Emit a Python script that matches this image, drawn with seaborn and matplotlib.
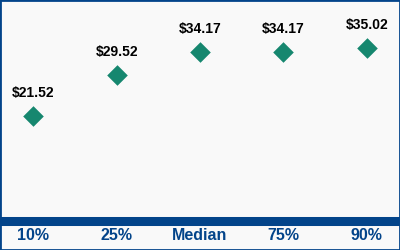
import matplotlib
matplotlib.use("Agg")
import matplotlib.pyplot as plt
import seaborn as sns
import pandas as pd
from matplotlib.patches import Rectangle

categories = ["10%", "25%", "Median", "75%", "90%"]
values = [21.52, 29.52, 34.17, 34.17, 35.02]
labels = ["$21.52", "$29.52", "$34.17", "$34.17", "$35.02"]

df = pd.DataFrame({"cat": categories, "val": values})

sns.set_theme(style="white")
plt.rcParams["font.family"] = ["Liberation Sans", "DejaVu Sans"]

BG = "#f9f9f9"
BLUE = "#03448a"
TEAL = "#16876f"

fig = plt.figure(figsize=(4, 2.5), dpi=100, facecolor=BG)
ax = fig.add_axes([0, 29 / 250, 1, 221 / 250])
ax.set_facecolor(BG)

sns.scatterplot(data=df, x="cat", y="val", marker="D", s=110, color=TEAL,
                linewidth=0, ax=ax, zorder=3)

for i, (v, t) in enumerate(zip(values, labels)):
    ax.annotate(t.replace("$", r"\$"), (i, v), xytext=(0, 16.5), textcoords="offset points",
                ha="center", va="center", fontsize=10, fontweight="bold", color="black")

ax.set_xlim(-0.4, 4.4)
ax.set_ylim(0.6, 44.45)
ax.set_xlabel("")
ax.set_ylabel("")
ax.set_yticks([])
ax.tick_params(axis="x", length=0, pad=5, labelsize=11.5, labelcolor=BLUE)
for lab in ax.get_xticklabels():
    lab.set_fontweight("bold")
for s in ["left", "right", "top"]:
    ax.spines[s].set_visible(False)
ax.spines["bottom"].set_color(BLUE)
ax.spines["bottom"].set_linewidth(6.5)

fig.patches.append(Rectangle((0, 0), 1, 1, transform=fig.transFigure, fill=False,
                             edgecolor=BLUE, linewidth=2, zorder=10))

fig.savefig("out.png", dpi=100, facecolor=BG)
